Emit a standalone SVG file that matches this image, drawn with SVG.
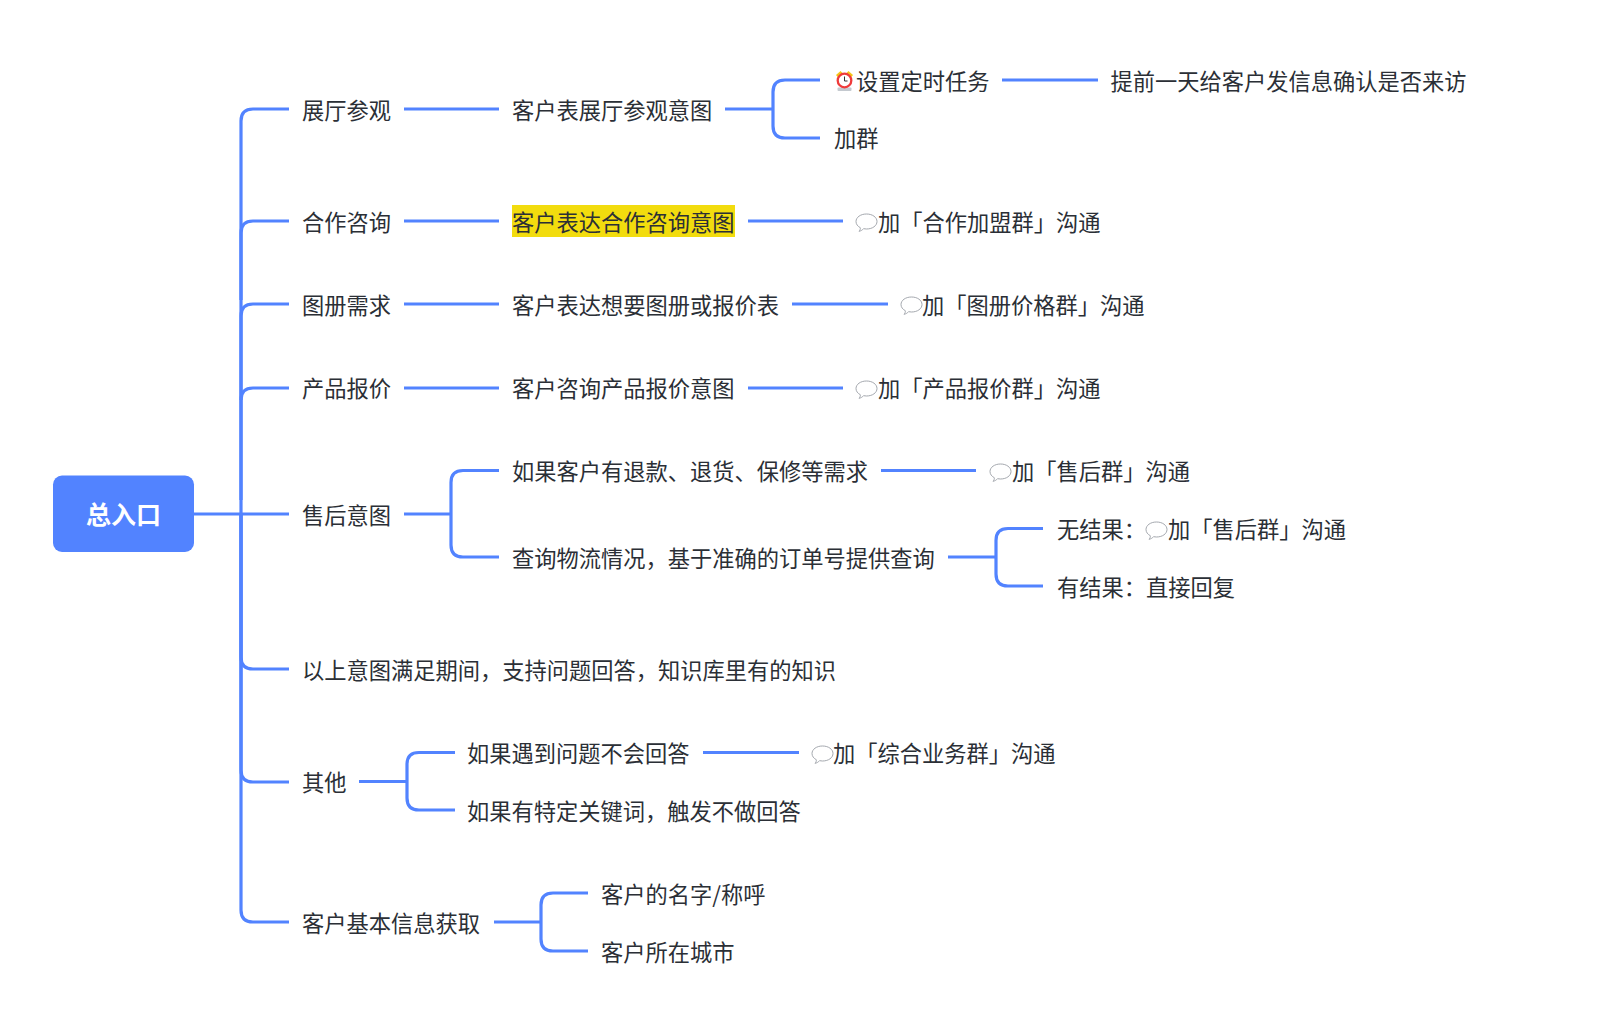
<svg xmlns="http://www.w3.org/2000/svg" width="1621" height="1033" viewBox="0 0 1621 1033">
<style>
text{font-family:"Noto Sans CJK SC","Noto Sans",sans-serif;font-size:22.25px;fill:#2b2f36;font-weight:400}
.c{fill:none;stroke:#5283ff;stroke-width:3.2}
.r{fill:#5283ff}
.t{fill:#fff;font-weight:700;font-size:25px;text-anchor:middle}
.b{fill:#fff;stroke:#9a9ea5;stroke-width:.9}
</style>
<defs>
<g id="bubble"><path class="b" d="M10.500 0C16.500 0 21 3.300 21 7.500S16.500 15 10.500 15C9.500 15 8.500 14.900 7.500 14.700C6.500 16 4.800 17 3 17.300C4 16.300 4.500 15 4.300 13.700C1.700 12.400 0 10.100 0 7.500C0 3.300 4.500 0 10.500 0Z"/></g>
</defs>
<rect width="1621" height="1033" fill="#fff"/>
<g id="connectors">
<path class="c" d="M194 514H289"/>
<path class="c" d="M241 514V121Q241 109 253 109H289"/>
<path class="c" d="M241 300V233Q241 221 253 221H289"/>
<path class="c" d="M241 400V316Q241 304 253 304H289"/>
<path class="c" d="M241 500V400Q241 388 253 388H289"/>
<path class="c" d="M241 514V657Q241 669 253 669H289"/>
<path class="c" d="M241 514V770Q241 782 253 782H289"/>
<path class="c" d="M241 514V910Q241 922 253 922H289"/>
<path class="c" d="M404 109H499M404 221H499M404 304H499M404 388H499"/>
<path class="c" d="M725 109H773"/>
<path class="c" d="M820 80H785Q773 80 773 92V126Q773 138 785 138H820"/>
<path class="c" d="M1002 80H1098"/>
<path class="c" d="M748 221H843M792 304H888M748 388H843"/>
<path class="c" d="M404 514H451"/>
<path class="c" d="M499 470.500H463Q451 470.500 451 482.500V545Q451 557 463 557H499"/>
<path class="c" d="M881 470.500H976"/>
<path class="c" d="M948 557H996"/>
<path class="c" d="M1043 528.500H1008Q996 528.500 996 540.500V574Q996 586 1008 586H1043"/>
<path class="c" d="M359 781.500H407"/>
<path class="c" d="M455 752.500H419Q407 752.500 407 764.500V798Q407 810 419 810H455"/>
<path class="c" d="M703 752.500H799"/>
<path class="c" d="M494 922H541"/>
<path class="c" d="M588 893H553Q541 893 541 905V939Q541 951 553 951H588"/>
</g>
<g id="root"><rect class="r" x="53" y="475.500" width="141" height="76.500" rx="9"/><text class="t" x="123.500" y="524">总入口</text></g>
<g id="n1"><text x="302" y="118.500">展厅参观</text></g>
<g id="n1a"><text x="512" y="118.500">客户表展厅参观意图</text></g>
<g id="n1a1">
<g id="clock"><path d="M836 75l4.500-4 2 2-4.500 4.500zM853 75l-4.500-4-2 2 4.500 4.500z" fill="#f5c518"/><rect x="837.500" y="87.500" width="14" height="3.500" rx="1" fill="#c4c9cf"/><circle cx="844.500" cy="80.500" r="6.800" fill="#fff" stroke="#ef3b3b" stroke-width="2.300"/><path d="M844.500 76.500V81H847.500" fill="none" stroke="#333" stroke-width="1"/></g>
<text x="856" y="89.500">设置定时任务</text></g>
<g id="n1a1a"><text x="1110.500" y="89.500">提前一天给客户发信息确认是否来访</text></g>
<g id="n1a2"><text x="834" y="146.500">加群</text></g>
<g id="n2"><text x="302" y="230.500">合作咨询</text></g>
<g id="n2a"><rect x="512" y="205" width="223" height="32" fill="#f2dc0e"/><text x="512" y="230.500">客户表达合作咨询意图</text></g>
<g id="n2b"><use href="#bubble" x="856" y="214"/><text x="878" y="230.500">加「合作加盟群」沟通</text></g>
<g id="n3"><text x="302" y="313.500">图册需求</text></g>
<g id="n3a"><text x="512" y="313.500">客户表达想要图册或报价表</text></g>
<g id="n3b"><use href="#bubble" x="901" y="297"/><text x="922" y="313.500">加「图册价格群」沟通</text></g>
<g id="n4"><text x="302" y="397">产品报价</text></g>
<g id="n4a"><text x="512" y="397">客户咨询产品报价意图</text></g>
<g id="n4b"><use href="#bubble" x="856" y="381"/><text x="878" y="397">加「产品报价群」沟通</text></g>
<g id="n5"><text x="302" y="523.500">售后意图</text></g>
<g id="n5a"><text x="512" y="480">如果客户有退款、退货、保修等需求</text></g>
<g id="n5b"><use href="#bubble" x="990" y="464"/><text x="1012" y="480">加「售后群」沟通</text></g>
<g id="n5c"><text x="512" y="566.500">查询物流情况，基于准确的订单号提供查询</text></g>
<g id="n5d"><text x="1057" y="538">无结果：</text><use href="#bubble" x="1146" y="522"/><text x="1168" y="538">加「售后群」沟通</text></g>
<g id="n5e"><text x="1057" y="595.500">有结果：直接回复</text></g>
<g id="n6"><text x="302" y="678.500">以上意图满足期间，支持问题回答，知识库里有的知识</text></g>
<g id="n7"><text x="302" y="790.500">其他</text></g>
<g id="n7a"><text x="467" y="761.500">如果遇到问题不会回答</text></g>
<g id="n7b"><use href="#bubble" x="812" y="746"/><text x="833" y="761.500">加「综合业务群」沟通</text></g>
<g id="n7c"><text x="467" y="819.500">如果有特定关键词，触发不做回答</text></g>
<g id="n8"><text x="302" y="931.500">客户基本信息获取</text></g>
<g id="n8a"><text x="601" y="902.500">客户的名字/称呼</text></g>
<g id="n8b"><text x="601" y="960.500">客户所在城市</text></g>
</svg>
